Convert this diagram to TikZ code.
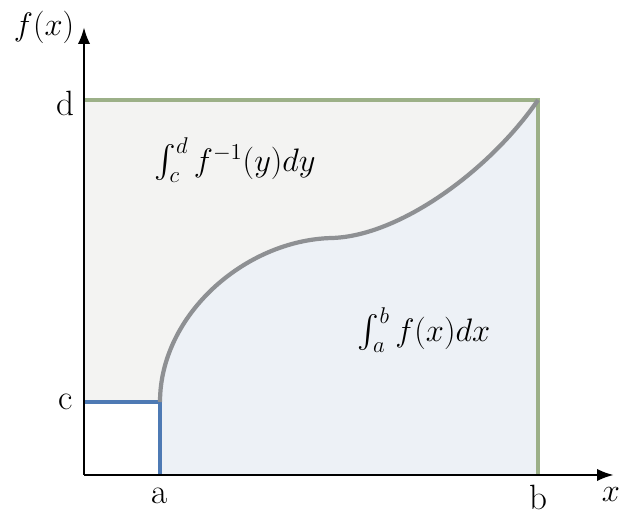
\RequirePackage{fix-cm}
\documentclass[tikz,border=0pt]{standalone}
\usepackage{amsmath,amssymb}
\usepackage{tikz}
\usetikzlibrary{arrows.meta,calc}
\definecolor{boundgreen}{RGB}{156,176,136}
\definecolor{limblue}{RGB}{78,122,180}
\definecolor{curvegray}{RGB}{142,144,147}
\definecolor{upperfill}{RGB}{243,243,242}
\definecolor{lowerfill}{RGB}{237,241,246}
\tikzset{
  axis/.style={-{Latex[length=3.4mm,width=2.5mm]},line width=1.6pt},
  bound/.style={draw=boundgreen,line width=2.4pt},
  limit/.style={draw=limblue,line width=2.2pt},
  graph/.style={draw=curvegray,line width=2.4pt},
  lbl/.style={inner sep=1pt},
  tick/.style={inner sep=0pt,font=\fontsize{20}{24}\selectfont}
}

\begin{document}
\begin{tikzpicture}[x=0.02cm,y=-0.02cm,font=\fontsize{18.5}{22}\selectfont]
  \useasboundingbox (0,0) rectangle (619,516);
  \coordinate (O) at (84,475);
  \coordinate (D) at (84,100);
  \coordinate (C) at (84,402);
  \coordinate (A) at (160,475);
  \coordinate (B) at (538,475);
  \coordinate (P) at (160,402);
  \coordinate (M) at (332,238);
  \coordinate (Q) at (538,100);
  \coordinate (X) at (614,475);
  \coordinate (Y) at (84,27);

  % areas
  \fill[upperfill] (D) rectangle (B);
  \fill[lowerfill] (A) -- (P) .. controls (160,315) and (245,240) .. (M)
    .. controls (400,236) and (490,170) .. (Q) -- (B) -- cycle;
  \fill[white] (C) rectangle (A);

  % bounds and curve
  \draw[bound] (D) -- (Q) -- (B);
  \draw[limit] (C) -- (P) -- (A);
  \draw[graph] (P) .. controls (160,315) and (245,240) .. (M)
    .. controls (400,236) and (490,170) .. (Q);

  % axes
  \draw[axis] (O) -- (X);
  \draw[axis] (O) -- (Y);

  \node[lbl] (fx) at (44,27) {$f(x)$};
  \node[lbl] (xl) at (611,495) {$x$};
  \node[tick] (dl) at (65,103) {d};
  \node[tick] (cl) at (66,402) {c};
  \node[tick] (al) at (160,496) {a};
  \node[tick] (bl) at (538,497) {b};
  \node[lbl] (inv) at (235,160) {$\int_c^d f^{-1}(y)dy$};
  \node[lbl] (int) at (424,330) {$\int_a^b f(x)dx$};
\end{tikzpicture}
\end{document}
